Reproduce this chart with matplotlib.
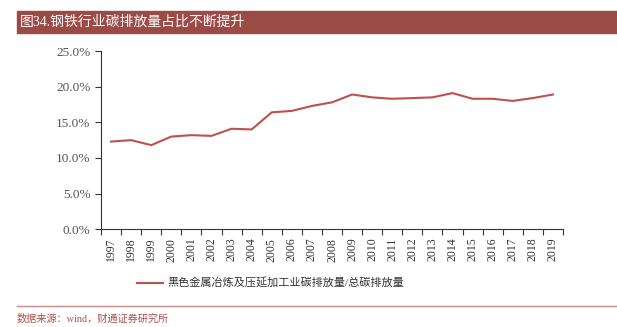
import matplotlib
matplotlib.use("Agg")
import matplotlib.pyplot as plt
from matplotlib.lines import Line2D
from matplotlib.patches import Rectangle
from matplotlib.ticker import FixedLocator, PercentFormatter

# steel industry share of total carbon emissions (%)
years = [str(y) for y in range(1997, 2020)]
share = [12.3, 12.5, 11.8, 13.0, 13.2, 13.1, 14.1, 14.0, 16.4, 16.6, 17.3, 17.8,
         18.9, 18.5, 18.3, 18.4, 18.5, 19.1, 18.3, 18.3, 18.0, 18.4, 18.9]
series_name = "黑色金属冶炼及压延加工业碳排放量/总碳排放量"
title = "图34.钢铁行业碳排放量占比不断提升"
source = "数据来源：wind，财通证券研究所"

red = "#9B4A46"
line_red = "#C0504D"
fonts = ["Liberation Serif", "Noto Sans CJK SC"]
plt.rcParams["font.family"] = fonts

W, H = 617, 327
fig = plt.figure(figsize=(W / 100, H / 100), dpi=100)

# title banner
fig.patches.append(Rectangle((17 / W, 1 - 33 / H), 600 / W, 22 / H,
                             transform=fig.transFigure, color=red, zorder=0))
fig.text(20 / W, 1 - 22 / H, title, color="white", fontsize=10,
         va="center", ha="left", family=fonts)

ax = fig.add_axes([101 / W, 1 - 229.3 / H, 462 / W, 178.3 / H])
x = list(range(len(years)))
ax.plot(x, share, color=line_red, lw=1.5)

ax.set_xlim(-0.5, len(years) - 0.5)
ax.set_ylim(0, 25)
ax.set_yticks([0, 5, 10, 15, 20, 25])
ax.yaxis.set_major_formatter(PercentFormatter(decimals=1))
ax.set_xticks(x)
ax.set_xticklabels(years, rotation=90)
ax.xaxis.set_minor_locator(FixedLocator([i - 0.5 for i in range(len(years) + 1)]))
ax.tick_params(axis="x", which="major", length=0, pad=6, labelsize=8.5, labelcolor="#333333")
ax.tick_params(axis="x", which="minor", length=4, color="#333333", width=0.8)
ax.tick_params(axis="y", length=4, color="#333333", width=0.8, labelsize=9.5, labelcolor="#555555")
for s in ["top", "right"]:
    ax.spines[s].set_visible(False)
for s in ["left", "bottom"]:
    ax.spines[s].set_color("#333333")
    ax.spines[s].set_linewidth(0.8)

# legend
fig.add_artist(Line2D([137 / W, 163 / W], [1 - 283 / H, 1 - 283 / H],
                      transform=fig.transFigure, color=line_red, lw=1.5))
fig.text(167 / W, 1 - 283 / H, series_name, fontsize=8, va="center",
         ha="left", color="#333333", family=fonts)

# footer rule and source
fig.add_artist(Line2D([17 / W, 1], [1 - 306 / H, 1 - 306 / H],
                      transform=fig.transFigure, color="#C98A86", lw=1))
fig.text(17 / W, 1 - 319 / H, source, fontsize=7.3, va="center", ha="left",
         color="#B0504B", family=fonts)

fig.savefig("out.png", dpi=100)
